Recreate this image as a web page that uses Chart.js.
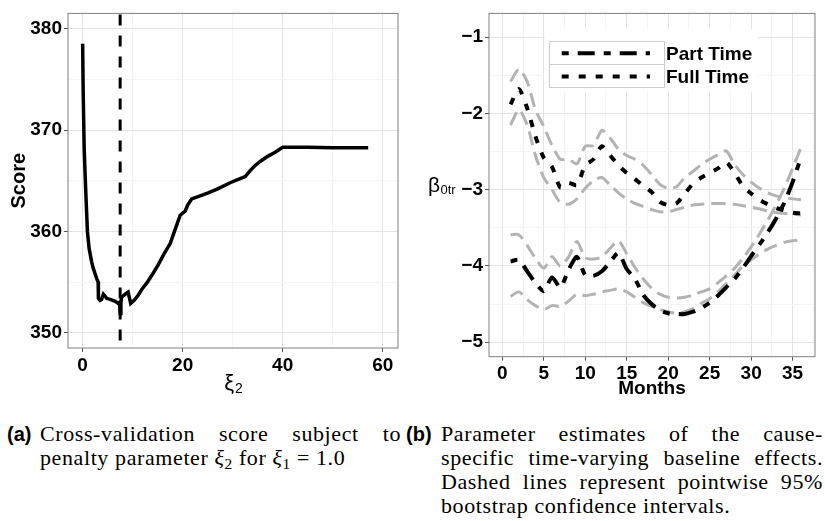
<!DOCTYPE html>
<html>
<head>
<meta charset="utf-8">
<script src="https://cdn.jsdelivr.net/npm/chart.js@4.4.1/dist/chart.umd.min.js"></script>
<style>
  html, body { margin: 0; padding: 0; background: #fff; }
  #wrap { position: relative; width: 825px; height: 521px; overflow: hidden; }
  #left { position: absolute; left: 0; top: 0; }
  #right { position: absolute; left: 410px; top: 0; }
  .cap { position: absolute; font-family: "Liberation Serif", serif; font-size: 22px; letter-spacing: 0.6px; line-height: 24px; color: #000; white-space: nowrap; }
  .just { text-align: justify; text-align-last: justify; white-space: normal; }
  .num { position: absolute; font-family: "Liberation Sans", sans-serif; font-weight: bold; font-size: 20px; line-height: 24px; }
  sub { font-size: 0.7em; vertical-align: -0.25em; line-height: 0; }
</style>
</head>
<body>
<div id="wrap">
  <canvas id="left" width="410" height="400"></canvas>
  <canvas id="right" width="415" height="400"></canvas>

  <div class="num" style="left:7px; top:422px">(a)</div>
  <div class="cap just" style="left:40px; top:422px; width:361px">Cross-validation score subject to</div>
  <div class="cap" style="left:40px; top:446px">penalty parameter <i>ξ</i><sub>2</sub> for <i>ξ</i><sub>1</sub> = 1.0</div>

  <div class="num" style="left:406px; top:422px">(b)</div>
  <div class="cap just" style="left:441px; top:422px; width:382px">Parameter estimates of the cause-</div>
  <div class="cap just" style="left:441px; top:446px; width:382px">specific time-varying baseline effects.</div>
  <div class="cap just" style="left:441px; top:470px; width:382px">Dashed lines represent pointwise 95%</div>
  <div class="cap" style="left:441px; top:494px">bootstrap confidence intervals.</div>
</div>
<script>
// (a) cross-validation score
const xi2 = [0, 0.1, 0.3, 0.5, 0.7, 0.95, 1.3, 1.8, 2.1, 2.5, 2.85, 3.1, 3.15, 3.5, 3.8, 4.15, 4.5, 4.8, 5.5, 6.5,
  7.1, 7.35, 7.5, 7.65, 7.8, 8.5, 9.1, 9.6, 10.3, 11.1, 12.0, 12.8, 14.0, 15.1, 16.3, 17.5, 18.5, 19.5, 20.5, 21.0,
  21.8, 23.5, 25.1, 27.0, 29.5, 31.0, 32.5, 33.5, 34.5, 35.5, 37.0, 38.5, 40.0, 45.0, 50.0, 57.1];
const score = [378.5, 374, 368.3, 365.5, 363, 360, 358.3, 357, 356.4, 355.8, 355.3, 355.0, 353.4, 353.2, 353.3, 353.8, 353.6, 353.4, 353.3, 353.1,
  352.9, 353.0, 351.9, 353.0, 353.5, 353.8, 354.0, 352.9, 353.2, 353.7, 354.4, 354.9, 355.8, 356.7, 357.8, 358.8, 360.2, 361.6, 362.0, 362.6,
  363.2, 363.5, 363.8, 364.2, 364.8, 365.1, 365.4, 366.0, 366.5, 366.9, 367.4, 367.8, 368.3, 368.3, 368.25, 368.25];
const selectedXi2 = 7.5;
const xi2Ticks = [0, 20, 40, 60];
const scoreTicks = [350, 360, 370, 380];

// (b) baseline effects by month
const months = [1, 2, 3, 4, 5, 6, 7, 8, 9, 10, 11, 12, 13, 14, 15, 16, 17, 18, 19, 20, 21, 22, 23, 24, 25, 26, 27, 28, 29, 30, 31, 32, 33, 34, 35, 36];
const fullEst = [-1.88, -1.68, -1.93, -2.3, -2.58, -2.7, -2.97, -2.91, -2.94, -2.68, -2.6, -2.43, -2.55, -2.68, -2.78, -2.86, -2.95, -3.03,
  -3.16, -3.2, -3.18, -3.05, -2.92, -2.84, -2.78, -2.72, -2.64, -2.78, -2.95, -3.05, -3.13, -3.19, -3.24, -3.27, -3.3, -3.31];
const fullUpper = [-1.58, -1.42, -1.58, -1.95, -2.17, -2.42, -2.6, -2.6, -2.66, -2.43, -2.42, -2.22, -2.32, -2.47, -2.55, -2.6, -2.68, -2.8,
  -2.93, -2.98, -2.96, -2.84, -2.76, -2.67, -2.6, -2.54, -2.49, -2.67, -2.8, -2.9, -2.98, -3.04, -3.08, -3.1, -3.12, -3.13];
const fullLower = [-2.15, -1.95, -2.15, -2.55, -2.84, -3.0, -3.17, -3.19, -3.12, -2.98, -2.88, -2.84, -2.94, -3.04, -3.12, -3.18, -3.22, -3.26,
  -3.29, -3.29, -3.26, -3.23, -3.2, -3.19, -3.18, -3.18, -3.18, -3.19, -3.21, -3.23, -3.25, -3.28, -3.3, -3.31, -3.32, -3.33];
const partEst = [-3.94, -3.92, -4.07, -4.22, -4.33, -4.15, -4.28, -4.05, -3.88, -4.12, -4.13, -4.07, -3.95, -3.83, -4.04, -4.17, -4.38, -4.5,
  -4.58, -4.62, -4.63, -4.63, -4.6, -4.55, -4.48, -4.39, -4.28, -4.17, -4.03, -3.87, -3.72, -3.56, -3.38, -3.17, -2.9, -2.58];
const partUpper = [-3.59, -3.59, -3.73, -3.9, -4.03, -3.88, -4.0, -3.88, -3.68, -3.89, -3.91, -3.88, -3.77, -3.67, -3.84, -4.02, -4.17, -4.29,
  -4.37, -4.41, -4.42, -4.41, -4.38, -4.34, -4.3, -4.22, -4.13, -4.03, -3.9, -3.75, -3.58, -3.4, -3.2, -2.98, -2.72, -2.45];
const partLower = [-4.4, -4.34, -4.44, -4.52, -4.57, -4.52, -4.53, -4.46, -4.37, -4.39, -4.37, -4.34, -4.32, -4.3, -4.34, -4.41, -4.48, -4.53,
  -4.57, -4.6, -4.62, -4.6, -4.56, -4.49, -4.43, -4.34, -4.23, -4.12, -4.0, -3.92, -3.84, -3.78, -3.73, -3.69, -3.67, -3.66];
const monthTicks = [0, 5, 10, 15, 20, 25, 30, 35];
const betaTicks = [-5, -4, -3, -2, -1];
const seriesNames = ["Part Time", "Full Time"];

Chart.defaults.font.family = "'Liberation Sans', Arial, sans-serif";
Chart.defaults.color = "#000";
Chart.defaults.animation = false;

const FONT = "'Liberation Sans', Arial, sans-serif";
const DASH_PART = [7, 9, 17, 9];
const DASH_FULL = [7, 10];
const DASH_CI = [14, 7];

// majors plus half-way minor lines, kept inside [lo, hi]
function withMinors(majors, lo, hi) {
  const m = majors.slice().sort((a, b) => a - b);
  const step = m[1] - m[0];
  const all = m.slice();
  for (let v = m[0] - step / 2; v <= m[m.length - 1] + step / 2 + 1e-9; v += step) all.push(v);
  return all.filter(v => v >= lo && v <= hi).sort((a, b) => a - b);
}

function axis(majors, lo, hi, fmt, fit, extra) {
  const ticks = withMinors(majors, lo, hi);
  const isMajor = v => majors.some(m => Math.abs(m - v) < 1e-9);
  return Object.assign({
    type: "linear",
    min: lo,
    max: hi,
    afterBuildTicks: s => { s.ticks = ticks.map(v => ({ value: v })); },
    afterFit: fit,
    grid: {
      color: c => (c.tick && isMajor(c.tick.value)) ? "#e4e4e4" : "#f4f4f4",
      tickColor: c => (c.tick && isMajor(c.tick.value)) ? "#555" : "rgba(0,0,0,0)",
      tickLength: 4,
      lineWidth: 1,
    },
    border: { display: false },
    ticks: {
      autoSkip: false,
      maxRotation: 0,
      font: { size: 19, weight: "bold" },
      color: "#000",
      padding: 2,
      callback: v => isMajor(v) ? fmt(v) : "",
    },
  }, extra || {});
}

const minus = v => (v < 0 ? "\u2212" + Math.abs(v) : String(v));

const panelBorder = {
  id: "panelBorder",
  afterDraw(chart) {
    const { ctx, chartArea: a } = chart;
    ctx.save();
    ctx.strokeStyle = "#808080";
    ctx.lineWidth = 1;
    ctx.strokeRect(a.left, a.top, a.right - a.left, a.bottom - a.top);
    ctx.restore();
  },
};

// ---------- left panel ----------
const selLine = {
  id: "selLine",
  afterDatasetsDraw(chart) {
    const { ctx, chartArea: a, scales } = chart;
    const x = scales.x.getPixelForValue(selectedXi2);
    ctx.save();
    ctx.strokeStyle = "#000";
    ctx.lineWidth = 3;
    ctx.setLineDash([11, 10]);
    ctx.beginPath();
    ctx.moveTo(x, a.top + 1);
    ctx.lineTo(x, a.bottom);
    ctx.stroke();
    // x title: xi with subscript 2
    ctx.setLineDash([]);
    ctx.fillStyle = "#000";
    ctx.textBaseline = "alphabetic";
    ctx.font = "22px " + FONT;
    const w1 = ctx.measureText("\u03BE").width;
    ctx.font = "14px " + FONT;
    const w2 = ctx.measureText("2").width;
    const cx = (a.left + a.right) / 2 - (w1 + w2) / 2;
    ctx.font = "22px " + FONT;
    ctx.fillText("\u03BE", cx, 390);
    ctx.font = "14px " + FONT;
    ctx.fillText("2", cx + w1 + 1, 393);
    ctx.restore();
  },
};

new Chart(document.getElementById("left"), {
  type: "line",
  data: {
    datasets: [{
      data: xi2.map((x, i) => ({ x, y: score[i] })),
      borderColor: "#000",
      borderWidth: 3.5,
      pointRadius: 0,
      tension: 0,
      fill: false,
    }],
  },
  options: {
    responsive: false,
    events: [],
    layout: { padding: { left: 0, top: 7, right: 12, bottom: 0 } },
    plugins: { legend: { display: false }, tooltip: { enabled: false } },
    scales: {
      x: axis(xi2Ticks, -2.93, 63.06, v => String(v), s => { s.height = 52; }, {}),
      y: axis(scoreTicks, 348.5, 381.5, v => String(v), s => { s.width = 68; }, {
        title: { display: true, text: "Score", font: { size: 20, weight: "bold" }, color: "#000", padding: { top: 7 } },
      }),
    },
  },
  plugins: [selLine, panelBorder],
});

// ---------- right panel ----------
const rightDecor = {
  id: "rightDecor",
  afterDraw(chart) {
    const { ctx, chartArea: a } = chart;
    ctx.save();
    // legend
    ctx.fillStyle = "#fff";
    ctx.fillRect(135, 29, 213, 63);
    ctx.strokeStyle = "#cccccc";
    ctx.lineWidth = 1;
    ctx.strokeRect(139.5, 41.5, 115, 46);
    ctx.beginPath();
    ctx.moveTo(139.5, 64.5);
    ctx.lineTo(254.5, 64.5);
    ctx.stroke();
    const rows = [[53.3, DASH_PART], [76.5, DASH_FULL]];
    rows.forEach(([y, dash], i) => {
      ctx.strokeStyle = "#000";
      ctx.lineWidth = 4;
      ctx.setLineDash(dash);
      ctx.beginPath();
      ctx.moveTo(151.7, y);
      ctx.lineTo(240, y);
      ctx.stroke();
      ctx.setLineDash([]);
      ctx.fillStyle = "#000";
      ctx.font = "bold 19px " + FONT;
      ctx.textBaseline = "middle";
      ctx.fillText(seriesNames[i], 256, y + 1);
    });
    // y title: beta_0tr, horizontal
    const cy = (a.top + a.bottom) / 2;
    ctx.textBaseline = "alphabetic";
    ctx.font = "21px " + FONT;
    ctx.fillText("\u03B2", 18, cy + 6.5);
    ctx.font = "13px " + FONT;
    ctx.fillText("0tr", 30.5, cy + 9);
    ctx.restore();
  },
};

const pts = vals => months.map((m, i) => ({ x: m, y: vals[i] }));
const estStyle = dash => ({ borderColor: "#000", borderWidth: 4, borderDash: dash, pointRadius: 0, tension: 0.25, fill: false, order: 1 });
const ciStyle = { borderColor: "#b3b3b3", borderWidth: 3, borderDash: DASH_CI, pointRadius: 0, tension: 0.25, fill: false, order: 2 };

new Chart(document.getElementById("right"), {
  type: "line",
  data: {
    datasets: [
      Object.assign({ label: seriesNames[0], data: pts(partEst) }, estStyle(DASH_PART)),
      Object.assign({ label: seriesNames[1], data: pts(fullEst) }, estStyle(DASH_FULL)),
      Object.assign({ data: pts(partUpper) }, ciStyle),
      Object.assign({ data: pts(partLower) }, ciStyle),
      Object.assign({ data: pts(fullUpper) }, ciStyle),
      Object.assign({ data: pts(fullLower) }, ciStyle),
    ],
  },
  options: {
    responsive: false,
    events: [],
    layout: { padding: { left: 0, top: 6.7, right: 10, bottom: 0 } },
    plugins: { legend: { display: false }, tooltip: { enabled: false } },
    scales: {
      x: axis(monthTicks, -1.6, 37.7, v => String(v), s => { s.height = 43.3; }, {
        title: { display: true, text: "Months", font: { size: 19, weight: "bold" }, color: "#000", padding: { top: 0, bottom: 0 } },
      }),
      y: axis(betaTicks, -5.19, -0.687, minus, s => { s.width = 79; }, {}),
    },
  },
  plugins: [panelBorder, rightDecor],
});
</script>
</body>
</html>
